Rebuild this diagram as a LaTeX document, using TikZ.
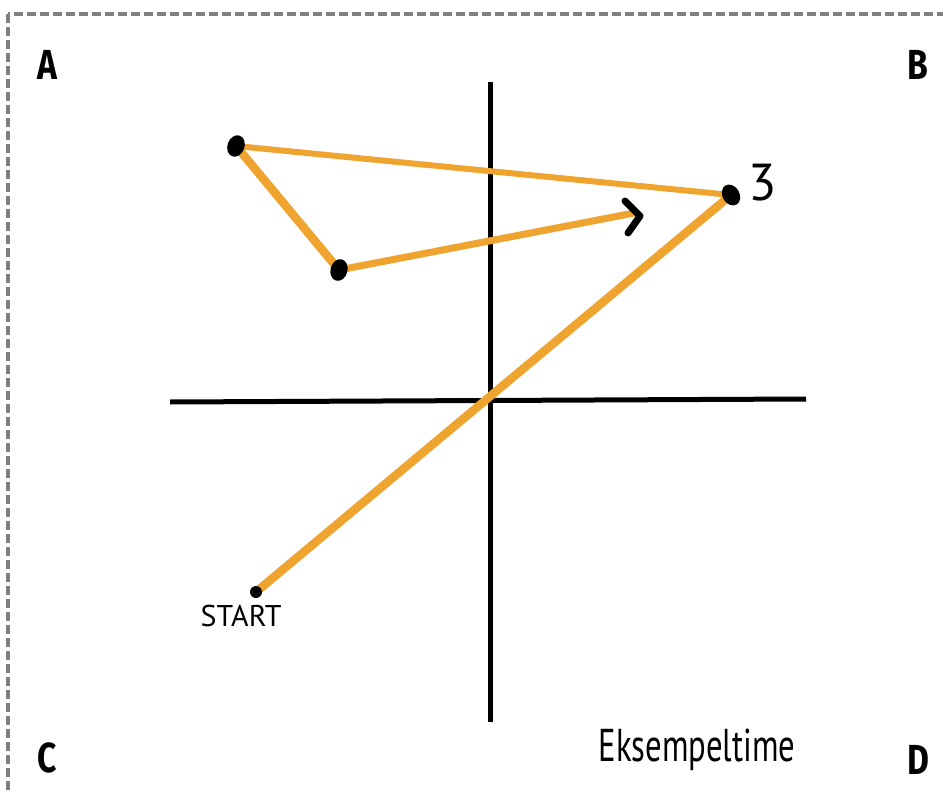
\documentclass[tikz,border=0pt]{standalone}
\usepackage{fontspec}
\usetikzlibrary{shapes.geometric}
\setmainfont{Fira Sans}
\newfontfamily\handfont{PT Sans}
\definecolor{trail}{HTML}{F0A430}
\definecolor{frame}{HTML}{808080}
\begin{document}
\begin{tikzpicture}[x=1pt,y=-1pt,
  corner/.style={font=\fontsize{42}{42}\selectfont\bfseries,xscale=0.8},
  dotmark/.style={fill=black,ellipse,inner sep=0pt,minimum width=17pt,minimum height=22pt},
  smalldot/.style={fill=black,circle,inner sep=0pt,minimum size=12pt},
  axis/.style={line width=5pt,black},
  path1/.style={trail,line width=8.5pt},
  path2/.style={trail,line width=6pt}]
\useasboundingbox (0,0) rectangle (943,792);
\clip (0,0) rectangle (943,792);
\fill[white] (0,0) rectangle (943,792);
\draw[frame,line width=4pt,dash pattern=on 9pt off 4pt] (8,14) rectangle (990,840);
% axes
\coordinate (vt) at (490,82);
\coordinate (vb) at (490,722);
\coordinate (hl) at (170,402);
\coordinate (hr) at (806,399);
\draw[axis] (vt) -- (vb);
\draw[axis] (hl) -- (hr);
% points
\coordinate (s) at (256,592);
\coordinate (p3) at (731,195);
\coordinate (p1) at (236,146);
\coordinate (p2) at (339,270);
\coordinate (tip) at (634,213);
% trail
\draw[path1,line cap=round] (s) -- (p3);
\draw[path2,line cap=round] (p3) -- (p1);
\draw[path1,line cap=round] (p1) -- (p2);
\draw[trail,line width=7pt,line cap=round] (p2) -- (tip);
\draw[black,line width=7pt,line cap=round,line join=round] (625,201) -- (640,216) -- (628,233);
% dots
\node[smalldot] (sd) at (s) {};
\node[dotmark,rotate=30] (d3) at (p3) {};
\node[dotmark,rotate=-20] (d1) at (p1) {};
\node[dotmark,rotate=-15] (d2) at (p2) {};
% labels
\node[corner] (la) at (47,65) {A};
\node[corner] (lb) at (918,65) {B};
\node[corner] (lc) at (47,758) {C};
\node[corner] (ld) at (918,760) {D};
\node[font=\fontsize{52}{52}\selectfont\handfont] (l3) at (763,183) {3};
\node[font=\fontsize{30}{30}\selectfont\handfont] (ls) at (241,616) {START};
\node[font=\fontsize{46}{46}\selectfont\handfont,xscale=0.71] (le) at (697,750) {Eksempeltime};
\end{tikzpicture}
\end{document}
